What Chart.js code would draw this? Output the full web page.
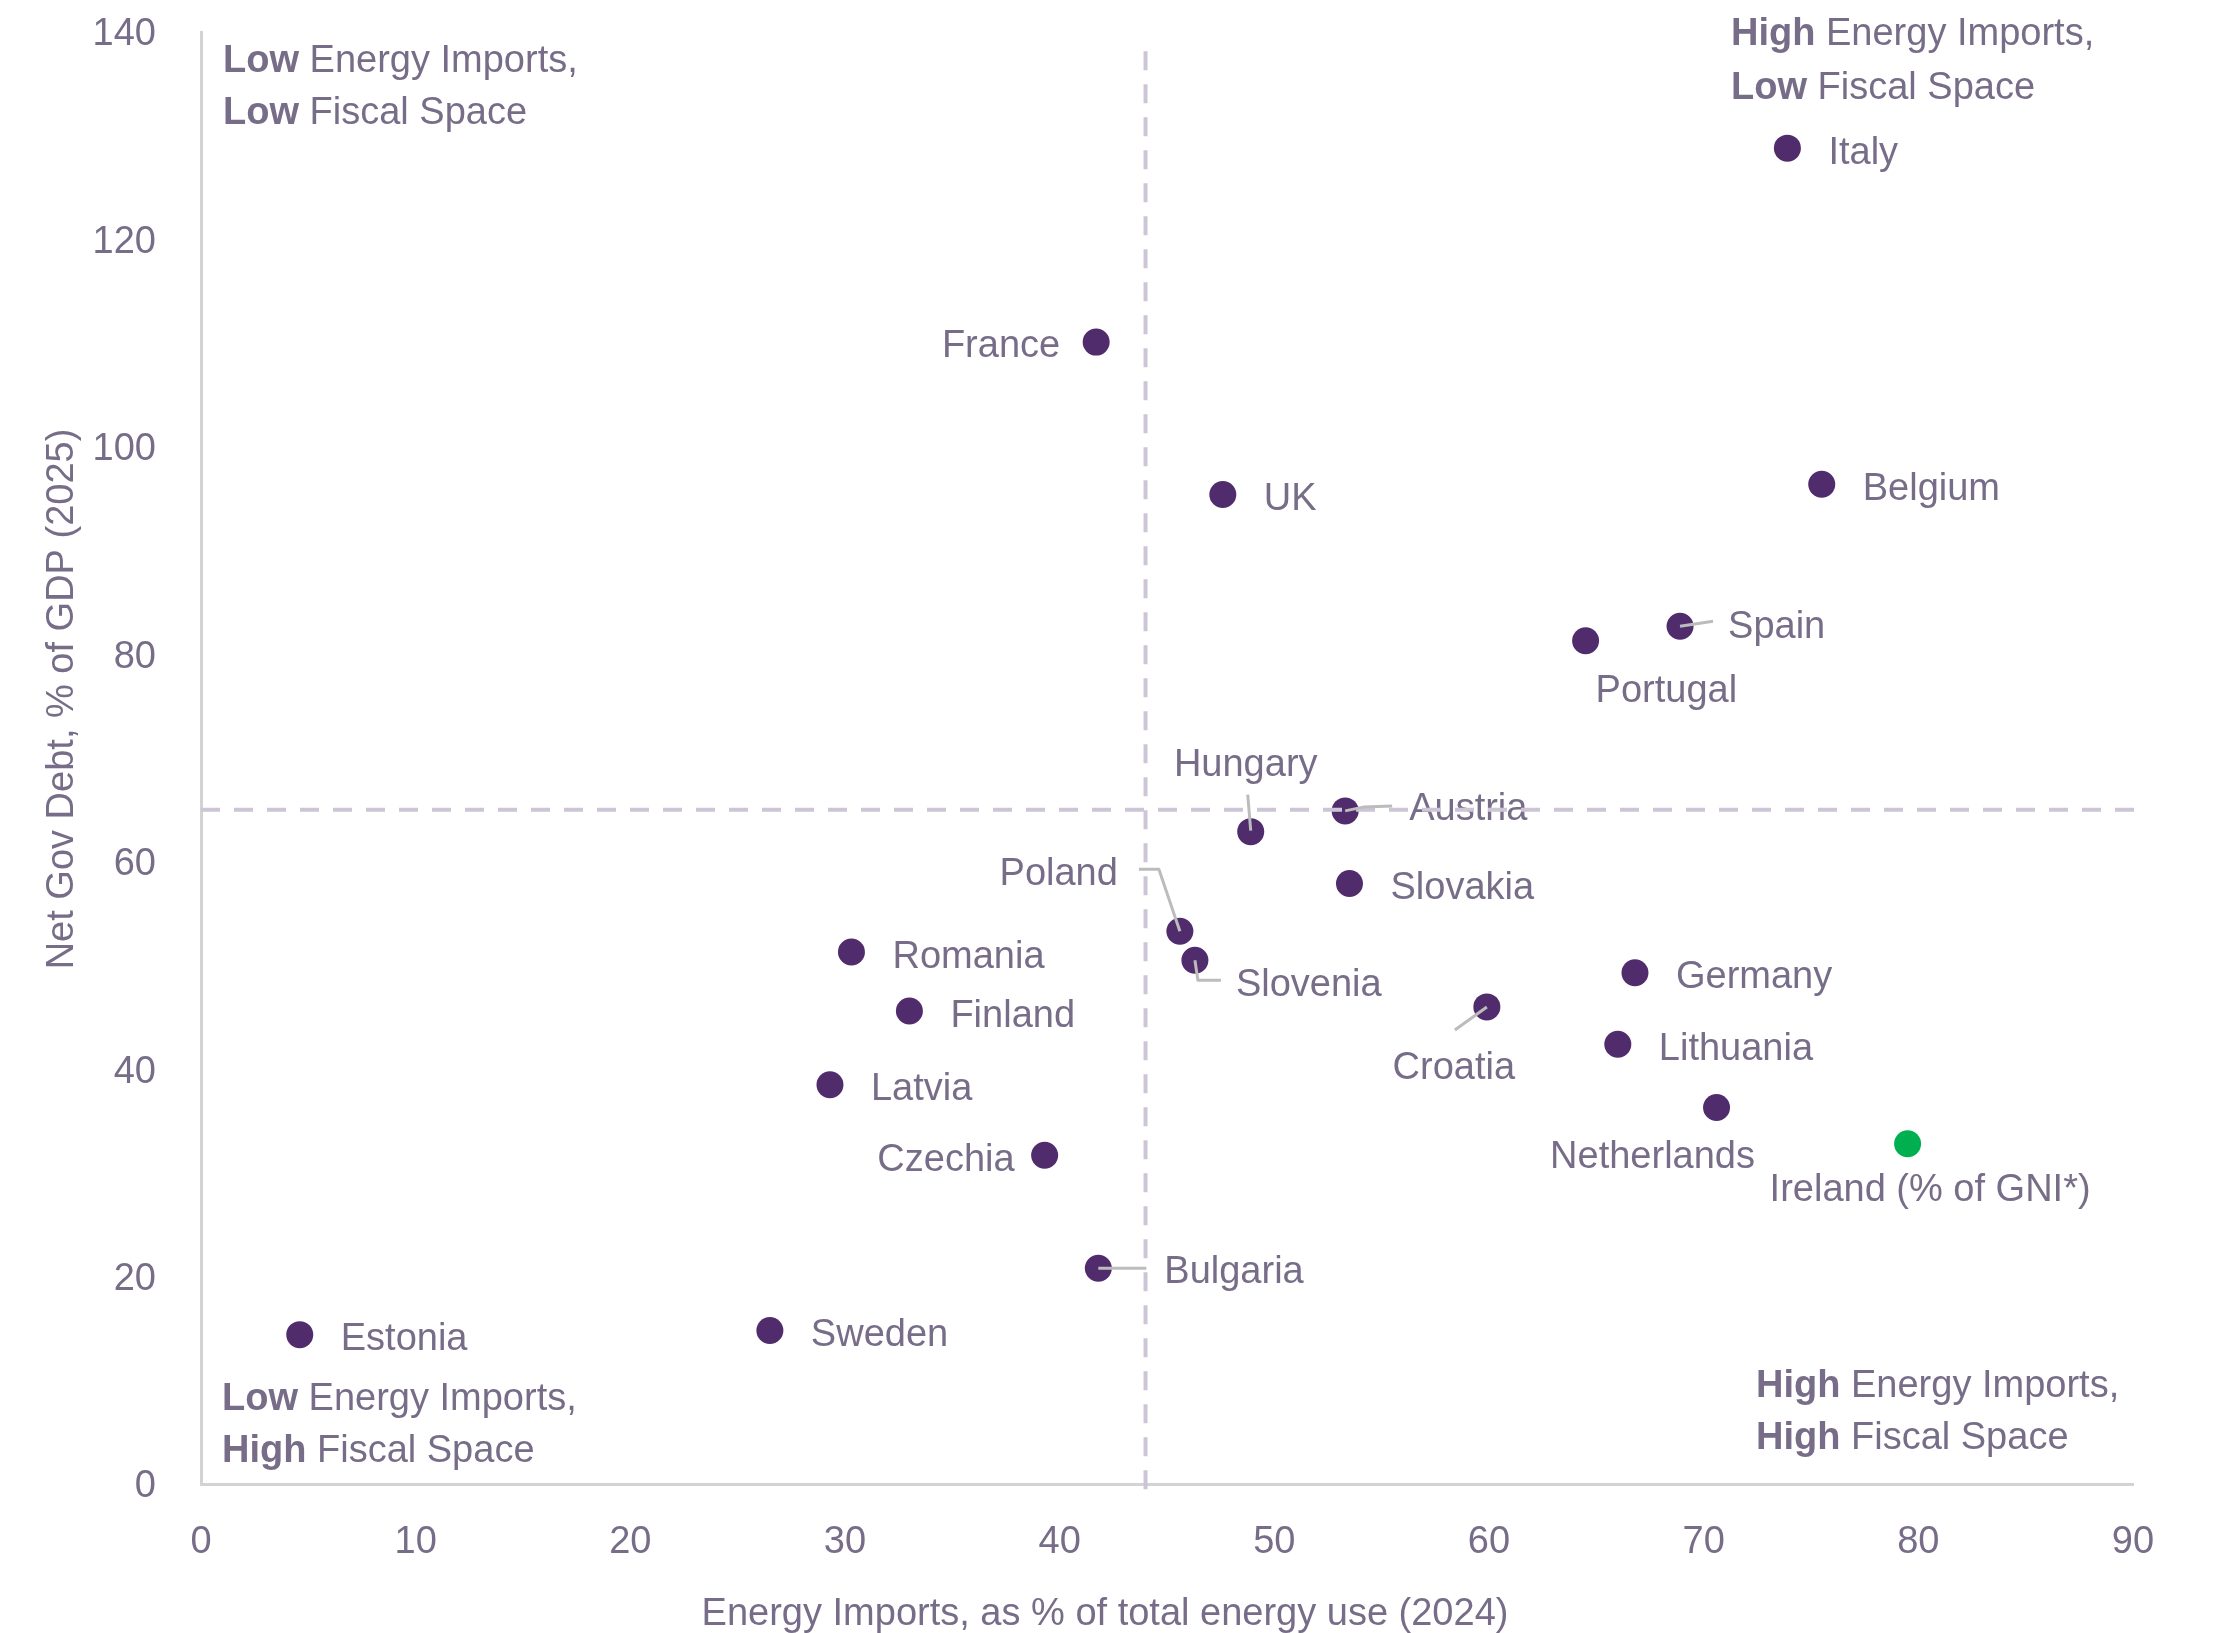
<!DOCTYPE html>
<html>
<head>
<meta charset="utf-8">
<script src="https://cdn.jsdelivr.net/npm/chart.js@4/dist/chart.umd.min.js"></script>
<style>
  html, body { margin: 0; padding: 0; background: #ffffff; }
  #wrap { width: 2214px; height: 1633px; }
</style>
</head>
<body>
<div id="wrap"><canvas id="chart" width="2214" height="1633"></canvas></div>
<script>
// ---------------- DATA ----------------
const countries = ['Italy', 'France', 'UK', 'Belgium', 'Spain', 'Portugal', 'Hungary', 'Austria',
  'Slovakia', 'Poland', 'Slovenia', 'Romania', 'Finland', 'Latvia', 'Czechia', 'Bulgaria',
  'Estonia', 'Sweden', 'Croatia', 'Germany', 'Lithuania', 'Netherlands', 'Ireland (% of GNI*)'];
const energyImports = [73.9, 41.7, 47.6, 75.5, 68.9, 64.5, 48.9, 53.3,
  53.5, 45.6, 46.3, 30.3, 33.0, 29.3, 39.3, 41.8,
  4.6, 26.5, 59.9, 66.8, 66.0, 70.6, 79.5];
const netGovDebt = [128.8, 110.1, 95.4, 96.4, 82.7, 81.3, 62.9, 64.9,
  57.9, 53.3, 50.5, 51.3, 45.6, 38.5, 31.7, 20.8,
  14.4, 14.8, 46.0, 49.3, 42.4, 36.3, 32.8];
const highlighted = ['Ireland (% of GNI*)'];
const importsThreshold = 44;   // vertical dashed line (x)
const debtThreshold = 65;      // horizontal dashed line (y)
const xTickValues = [0, 10, 20, 30, 40, 50, 60, 70, 80, 90];
const yTickValues = [0, 20, 40, 60, 80, 100, 120, 140];
const xAxisTitle = 'Energy Imports, as % of total energy use (2024)';
const yAxisTitle = 'Net Gov Debt, % of GDP (2025)';
const quadrantTexts = [
  [['Low', ' Energy Imports,'], ['Low', ' Fiscal Space']],
  [['High', ' Energy Imports,'], ['Low', ' Fiscal Space']],
  [['Low', ' Energy Imports,'], ['High', ' Fiscal Space']],
  [['High', ' Energy Imports,'], ['High', ' Fiscal Space']]
];

// ---------------- STYLE ----------------
const FAMILY = '"Liberation Sans", Arial, Helvetica, sans-serif';
const FS = 38;
const TEXT = '#776d88';
const PURPLE = '#512c6d';
const GREEN = '#00b050';
const AXIS = '#d3d3d3';
const DASH = '#cdc5d6';
const LEADER = '#bcbcbc';

// label placement (pixel offsets from the point), styling only
const labelStyle = {
  default: { align: 'left', dx: 41, dy: 2 },
  'France': { align: 'right', dx: -36, dy: 1 },
  'Czechia': { align: 'right', dx: -30, dy: 2 },
  'Spain': { align: 'left', dx: 48, dy: -2, leader: [[0, 0], [33, -5]] },
  'Austria': { align: 'left', dx: 64, dy: -4, leader: [[0, 0], [19, -4], [47, -5]] },
  'Hungary': { align: 'center', dx: -5, dy: -69, leader: [[-3, -37], [0, -1]] },
  'Poland': { align: 'right', dx: -62, dy: -60, leader: [[0, 0], [-21, -62], [-41, -62]] },
  'Slovenia': { align: 'left', dx: 41, dy: 22, leader: [[0, 0], [3, 20], [26, 20]] },
  'Croatia': { align: 'center', dx: -33, dy: 58, leader: [[0, 0], [-32, 23]] },
  'Bulgaria': { align: 'left', dx: 66, dy: 1, leader: [[0, 0], [48, 0]] },
  'Portugal': { align: 'left', dx: 10, dy: 48 },
  'Netherlands': { align: 'center', dx: -64, dy: 47 },
  'Ireland (% of GNI*)': { align: 'left', dx: -138, dy: 44 }
};
// quadrant text positions: [x start, first line centre y, second line centre y]
const quadrantPos = [[223, 58, 110], [1731, 31, 85], [222, 1396, 1448], [1756, 1383, 1435]];

const capOffset = FS * 0.358;

const annotationPlugin = {
  id: 'annotations',
  beforeDatasetsDraw(chart) {
    const ctx = chart.ctx;
    const meta = chart.getDatasetMeta(0);
    ctx.save();
    ctx.font = FS + 'px ' + FAMILY;
    ctx.fillStyle = TEXT;
    ctx.textBaseline = 'alphabetic';
    meta.data.forEach((el, i) => {
      const st = labelStyle[countries[i]] || labelStyle.default;
      ctx.textAlign = st.align;
      ctx.fillText(countries[i], el.x + st.dx, el.y + st.dy + capOffset);
    });
    // quadrant labels
    quadrantTexts.forEach((lines, q) => {
      const p = quadrantPos[q];
      lines.forEach((parts, li) => {
        const y = p[1 + li] + capOffset;
        ctx.textAlign = 'left';
        ctx.font = 'bold ' + FS + 'px ' + FAMILY;
        ctx.fillText(parts[0], p[0], y);
        const w = ctx.measureText(parts[0]).width;
        ctx.font = FS + 'px ' + FAMILY;
        ctx.fillText(parts[1], p[0] + w, y);
      });
    });
    // axis titles
    ctx.font = FS + 'px ' + FAMILY;
    ctx.textAlign = 'center';
    ctx.fillText(xAxisTitle, 1105, 1611 + capOffset);
    ctx.save();
    ctx.translate(59 + capOffset, 699);
    ctx.rotate(-Math.PI / 2);
    ctx.fillText(yAxisTitle, 0, 0);
    ctx.restore();
    ctx.restore();
  },
  afterDatasetsDraw(chart) {
    const ctx = chart.ctx;
    const meta = chart.getDatasetMeta(0);
    ctx.save();
    ctx.strokeStyle = LEADER;
    ctx.lineWidth = 3;
    ctx.lineJoin = 'round';
    meta.data.forEach((el, i) => {
      const st = labelStyle[countries[i]];
      if (!st || !st.leader) return;
      ctx.beginPath();
      st.leader.forEach((pt, k) => {
        if (k === 0) ctx.moveTo(el.x + pt[0], el.y + pt[1]);
        else ctx.lineTo(el.x + pt[0], el.y + pt[1]);
      });
      ctx.stroke();
    });
    ctx.restore();
  }
};

const points = countries.map((c, i) => ({ x: energyImports[i], y: netGovDebt[i] }));

new Chart(document.getElementById('chart').getContext('2d'), {
  type: 'scatter',
  data: {
    datasets: [
      {
        label: 'Countries',
        data: points,
        backgroundColor: (c) => highlighted.includes(countries[c.dataIndex]) ? GREEN : PURPLE,
        borderWidth: 0,
        pointRadius: 13.5,
        pointHoverRadius: 13.5,
        order: 2
      },
      {
        type: 'line',
        label: 'Imports threshold',
        data: [{ x: importsThreshold, y: -0.5 }, { x: importsThreshold, y: 138.5 }],
        borderColor: DASH,
        borderWidth: 4,
        borderDash: [19, 14],
        pointRadius: 0,
        clip: false,
        order: 1
      },
      {
        type: 'line',
        label: 'Debt threshold',
        data: [{ x: 0, y: debtThreshold }, { x: 90.5, y: debtThreshold }],
        borderColor: DASH,
        borderWidth: 4,
        borderDash: [19, 14],
        pointRadius: 0,
        clip: false,
        order: 1
      }
    ]
  },
  options: {
    responsive: false,
    animation: false,
    events: [],
    layout: { padding: { top: 32, right: 81, left: 0, bottom: 0 } },
    plugins: { legend: { display: false }, tooltip: { enabled: false } },
    scales: {
      x: {
        type: 'linear',
        min: 0, max: 90,
        afterBuildTicks: (s) => { s.ticks = xTickValues.map(v => ({ value: v })); },
        ticks: { font: { family: FAMILY, size: FS }, color: TEXT, padding: 36, maxRotation: 0 },
        grid: { display: false, drawTicks: false },
        border: { display: true, color: AXIS, width: 3 },
        afterFit: (s) => { s.height = 149; s.paddingLeft = 0; s.paddingRight = 0; }
      },
      y: {
        type: 'linear',
        min: 0, max: 140,
        afterBuildTicks: (s) => { s.ticks = yTickValues.map(v => ({ value: v })); },
        ticks: { font: { family: FAMILY, size: FS }, color: TEXT, padding: 45, labelOffset: 3 },
        grid: { display: false, drawTicks: false },
        border: { display: true, color: AXIS, width: 3 },
        afterFit: (s) => { s.width = 201; s.paddingTop = 0; s.paddingBottom = 0; }
      }
    }
  },
  plugins: [annotationPlugin]
});
</script>
</body>
</html>
